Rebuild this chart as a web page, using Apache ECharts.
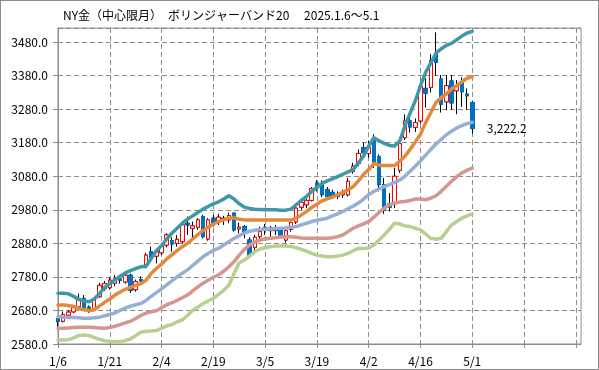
<!DOCTYPE html>
<html>
<head>
<meta charset="utf-8">
<script src="https://cdn.jsdelivr.net/npm/echarts@6/dist/echarts.min.js"></script>
<style>
html,body{margin:0;padding:0;background:#fff;}
#wrap{position:relative;width:599px;height:370px;}
#c{position:absolute;left:0;top:0;width:599px;height:370px;}
#frame{position:absolute;left:0;top:0;width:599px;height:370px;box-sizing:border-box;border:1px solid #8c8c8c;pointer-events:none;}
</style>
</head>
<body>
<div id="wrap"><div id="c"></div><div id="frame"></div></div>
<script>
const titleText = 'NY金（中心限月）　ボリンジャーバンド20　 2025.1.6～5.1';
const lastLabel = '3,222.2';
const dates = [
'1/6','1/7','1/8','1/9','1/10','1/13','1/14','1/15','1/16','1/17',
'1/21','1/22','1/23','1/24','1/27','1/28','1/29','1/30','1/31','2/3',
'2/4','2/5','2/6','2/7','2/10','2/11','2/12','2/13','2/14','2/18',
'2/19','2/20','2/21','2/24','2/25','2/26','2/27','2/28','3/3','3/4',
'3/5','3/6','3/7','3/10','3/11','3/12','3/13','3/14','3/17','3/18',
'3/19','3/20','3/21','3/24','3/25','3/26','3/27','3/28','3/31','4/1',
'4/2','4/3','4/4','4/7','4/8','4/9','4/10','4/11','4/14','4/15',
'4/16','4/17','4/21','4/22','4/23','4/24','4/25','4/28','4/29','4/30',
'5/1'];
const tickLabels = ['1/6','1/21','2/4','2/19','3/5','3/19','4/2','4/16','5/1'];
const yTicks = {min: 2580, max: 3522, step: 100};

const open = [
2655,2648,2666,2676,2691,2716,2690,2686,2721,2745,
2748,2761,2774,2765,2785,2742,2772,2816,2855,2842,
2852,2875,2888,2880,2885,2940,2925,2928,2960,2893,
2955,2948,2955,2950,2970,2923,2930,2890,2868,2900,
2928,2918,2925,2922,2890,2922,2944,2988,2995,3008,
3060,3055,3040,3032,3020,3025,3025,3095,3118,3165,
3148,3190,3138,3055,2998,2998,3098,3195,3245,3226,
3245,3342,3345,3442,3370,3302,3364,3335,3359,3325,
3300];
const high = [
2661,2677,2680,2692,2730,2726,2695,2718,2762,2768,
2778,2785,2782,2795,2790,2772,2782,2852,2870,2862,
2880,2910,2898,2905,2945,2960,2945,2955,2965,2955,
2965,2968,2962,2972,2972,2942,2935,2898,2905,2930,
2938,2932,2935,2928,2922,2945,2990,3012,3012,3048,
3068,3068,3048,3040,3035,3040,3075,3120,3160,3180,
3185,3205,3145,3075,3030,3105,3190,3264,3262,3252,
3360,3372,3444,3509,3382,3382,3382,3367,3375,3342,
3303];
const low = [
2632,2644,2658,2672,2686,2680,2672,2682,2718,2738,
2742,2752,2760,2760,2732,2736,2762,2805,2830,2820,
2845,2868,2855,2870,2880,2905,2895,2920,2895,2888,
2930,2935,2935,2940,2915,2910,2895,2840,2860,2892,
2905,2900,2905,2895,2882,2915,2938,2980,2985,3005,
3035,3018,3010,3012,3012,3015,3020,3088,3110,3140,
3135,3105,3035,2968,2975,2985,3090,3188,3210,3212,
3237,3285,3330,3380,3270,3277,3279,3265,3287,3278,
3207];
const close = [
2647,2668,2675,2688,2716,2685,2684,2712,2755,2760,
2770,2776,2770,2785,2740,2766,2768,2845,2838,2855,
2872,2905,2878,2892,2935,2935,2932,2950,2900,2950,
2938,2958,2950,2963,2920,2928,2910,2845,2898,2915,
2918,2926,2918,2900,2918,2942,2985,3002,3008,3043,
3045,3025,3020,3018,3026,3030,3065,3110,3148,3150,
3166,3122,3055,2978,2988,3080,3177,3245,3227,3240,
3347,3328,3425,3420,3295,3350,3299,3349,3332,3320,
3222.2];

const upper2 = [
2731,2731,2730,2722,2713,2708,2706,2714,2730,2748,
2760,2771,2782,2792,2799,2805,2810,2812,2835,2858,
2873,2893,2910,2925,2940,2952,2962,2972,2982,2990,
2998,3004,3012,3022,3012,2998,2988,2984,2982,2981,
2980,2980,2980,2979,2979,2982,2995,3008,3020,3035,
3047,3059,3066,3072,3079,3086,3093,3100,3120,3140,
3170,3195,3186,3178,3172,3170,3185,3230,3268,3305,
3350,3390,3418,3447,3460,3470,3476,3487,3498,3507,
3512];
const upper1 = [
2696,2696,2695,2692,2686,2682,2679,2682,2693,2704,
2714,2726,2735,2743,2749,2755,2760,2770,2790,2805,
2818,2834,2846,2858,2870,2880,2893,2906,2918,2928,
2937,2945,2950,2955,2956,2952,2950,2950,2950,2950,
2950,2950,2950,2950,2950,2950,2955,2965,2975,2987,
2997,3007,3013,3018,3025,3032,3040,3049,3066,3085,
3100,3118,3113,3112,3112,3112,3125,3140,3160,3182,
3205,3240,3270,3300,3315,3325,3340,3350,3362,3372,
3377];
const middle = [
2661,2660,2659,2659,2658,2657,2657,2658,2660,2664,
2668,2673,2680,2687,2693,2697,2701,2710,2722,2733,
2744,2756,2768,2780,2791,2801,2814,2827,2840,2850,
2859,2865,2875,2885,2895,2903,2911,2916,2919,2921,
2922,2923,2924,2925,2926,2928,2930,2935,2940,2945,
2949,2952,2955,2962,2968,2975,2983,2991,3000,3012,
3025,3035,3042,3049,3055,3062,3069,3080,3095,3110,
3126,3143,3160,3176,3190,3204,3214,3224,3231,3237,
3241];
const lower1 = [
2627,2627,2628,2629,2630,2630,2630,2629,2628,2627,
2629,2633,2638,2643,2648,2656,2665,2672,2676,2679,
2688,2697,2703,2710,2718,2726,2738,2750,2761,2770,
2779,2786,2797,2810,2825,2845,2862,2875,2884,2890,
2893,2895,2897,2899,2900,2900,2898,2896,2895,2895,
2895,2895,2895,2897,2900,2905,2915,2925,2932,2938,
2945,2958,2972,2985,2995,3000,3003,3005,3008,3012,
3012,3010,3015,3022,3035,3050,3065,3079,3090,3098,
3104];
const lower2 = [
2592,2592,2593,2598,2605,2607,2605,2600,2594,2590,
2588,2587,2587,2590,2595,2605,2615,2618,2619,2620,
2627,2634,2638,2646,2652,2665,2680,2690,2700,2708,
2716,2728,2740,2755,2790,2822,2830,2842,2855,2863,
2867,2870,2872,2872,2872,2871,2867,2862,2857,2850,
2845,2842,2840,2840,2842,2845,2850,2858,2865,2865,
2866,2875,2890,2905,2922,2940,2938,2932,2930,2925,
2920,2908,2895,2892,2895,2915,2935,2945,2955,2962,
2968];

// empty slots on the right of the category axis (no data)
const padCats = Array.from({length: 21}, (_, k) => 'pad' + k);
const categories = dates.concat(padCats);

const wickData = dates.map((d, i) => [open[i], close[i], low[i], high[i]]);
const bodyData = dates.map((d, i) => [open[i], close[i], Math.min(open[i], close[i]), Math.max(open[i], close[i])]);

const FONT = '"Noto Sans CJK JP", "Noto Sans", sans-serif';
const GRID_C = '#8c8c8c';

function band(name, data, color) {
  return {
    name: name, type: 'line', data: data, symbol: 'none', silent: true, z: 5,
    lineStyle: {color: color, width: 3.5, join: 'round', cap: 'round'}
  };
}

const chart = echarts.init(document.getElementById('c'), null, {renderer: 'canvas'});
chart.setOption({
  animation: false,
  backgroundColor: '#fff',
  title: {
    text: titleText, left: 58, top: 4,
    textStyle: {fontFamily: FONT, fontSize: 12, fontWeight: 'normal', color: '#000'}
  },
  grid: {left: 58, top: 28, right: 18, bottom: 26, show: true, borderColor: GRID_C, borderWidth: 1, backgroundColor: 'transparent'},
  xAxis: {
    type: 'category', data: categories, boundaryGap: false,
    axisLine: {show: true, lineStyle: {color: GRID_C, width: 1}},
    axisTick: {show: true, interval: 9, length: 4, lineStyle: {color: GRID_C}},
    axisLabel: {
      interval: 9, margin: 11, fontFamily: FONT, fontSize: 12, color: '#000',
      formatter: v => tickLabels.includes(v) ? v : ''
    },
    splitLine: {show: true, interval: 9, lineStyle: {color: GRID_C, type: [5, 3], width: 1}}
  },
  yAxis: {
    type: 'value', min: yTicks.min, max: yTicks.max, interval: yTicks.step, scale: true,
    axisLine: {show: true, lineStyle: {color: GRID_C, width: 1}},
    axisTick: {show: true, length: 5, lineStyle: {color: GRID_C}},
    axisLabel: {
      showMaxLabel: false, margin: 10, fontFamily: FONT, fontSize: 12, color: '#000',
      formatter: v => v.toFixed(1)
    },
    splitLine: {show: true, lineStyle: {color: GRID_C, type: [5, 3], width: 1}}
  },
  series: [
    {
      name: 'wick', type: 'candlestick', data: wickData, barWidth: 4, silent: true, z: 2,
      itemStyle: {color: '#000', color0: '#000', borderColor: '#000', borderColor0: '#000', borderWidth: 1}
    },
    {
      name: 'body', type: 'candlestick', data: bodyData, barWidth: 4, silent: true, z: 3,
      itemStyle: {color: '#ffffff', color0: '#0070c0', borderColor: '#ff0000', borderColor0: '#0070c0', borderWidth: 1},
      markPoint: {
        symbol: 'rect', symbolSize: 1, itemStyle: {color: 'rgba(0,0,0,0)'},
        label: {show: true, position: 'right', distance: 14, formatter: lastLabel, fontFamily: FONT, fontSize: 12, color: '#000'},
        data: [{coord: [dates[dates.length - 1], close[close.length - 1]]}]
      }
    },
    band('+2σ', upper2, '#3d98a8'),
    band('+1σ', upper1, '#e2893c'),
    band('MA20', middle, '#97afd7'),
    band('-1σ', lower1, '#d4968f'),
    band('-2σ', lower2, '#b7d08f')
  ]
});
</script>
</body>
</html>
